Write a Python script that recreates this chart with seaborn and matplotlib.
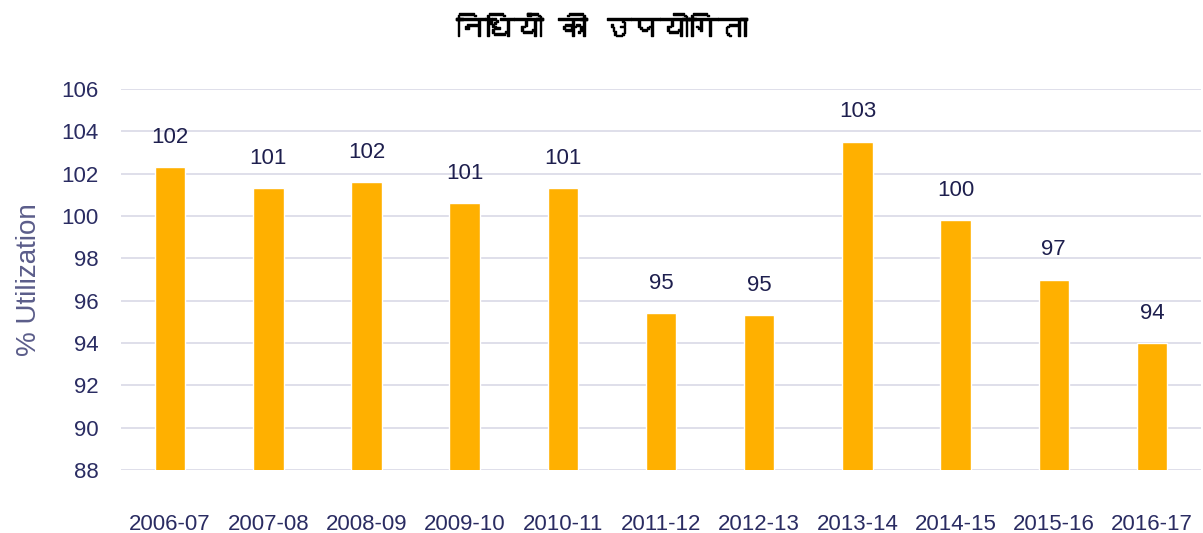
import matplotlib
matplotlib.use("Agg")
import matplotlib.pyplot as plt
import matplotlib.patheffects as pe
from matplotlib import font_manager
from matplotlib.ft2font import FT2Font
import numpy as np
import pandas as pd
import seaborn as sns

years = ["2006-07", "2007-08", "2008-09", "2009-10", "2010-11", "2011-12",
         "2012-13", "2013-14", "2014-15", "2015-16", "2016-17"]
utilization = [102.3, 101.3, 101.6, 100.6, 101.3, 95.4, 95.3, 103.5, 99.8, 97.0, 94.0]
labels = ["102", "101", "102", "101", "101", "95", "95", "103", "100", "97", "94"]
title = "निधियों की उपयोगिता"

df = pd.DataFrame({"year": years, "util": utilization})

# find something that can draw Devanagari
deva_font = None
for f in font_manager.fontManager.ttflist:
    try:
        if 0x0928 in FT2Font(f.fname).get_charmap():
            deva_font = f.name
            break
    except Exception:
        pass

sns.set_theme(style="white")
plt.rcParams['font.family'] = ['Liberation Sans', 'DejaVu Sans']

fig = plt.figure(figsize=(12.03, 5.33), dpi=100)
ax = fig.add_axes([0.1006, 0.1182, 0.8978, 0.7148])

sns.barplot(data=df, x="year", y="util", color="#FFB000", width=0.31,
            saturation=1, ax=ax, zorder=3)

ax.set_ylim(88, 106)
ax.set_yticks(np.arange(88, 107, 2))
ax.set_xlim(-0.5, 10.5)
ax.grid(axis="y", color="#d9d9e6", linewidth=1.2, zorder=0)
ax.set_axisbelow(True)
for s in ax.spines.values():
    s.set_visible(False)

ax.tick_params(axis="both", length=0, labelsize=16, colors="#2a2c62")
ax.tick_params(axis="x", pad=32)
ax.tick_params(axis="y", pad=16)
ax.set_xlabel("")
ax.set_ylabel("% Utilization", fontsize=20, color="#5b5d8a", labelpad=14)

for i, (v, lab) in enumerate(zip(utilization, labels)):
    ax.annotate(lab, (i, v), xytext=(0, 14), textcoords="offset points",
                ha="center", va="bottom", fontsize=16, color="#1e1f4e")

tfam = [deva_font, 'DejaVu Sans'] if deva_font else ['DejaVu Sans']
fig.text(0.5, 0.945, title, ha="center", va="center", fontsize=21,
         fontweight="bold", color="black", family=tfam,
         path_effects=[pe.withStroke(linewidth=1.0, foreground="black")])

fig.savefig("out.png", dpi=100)
